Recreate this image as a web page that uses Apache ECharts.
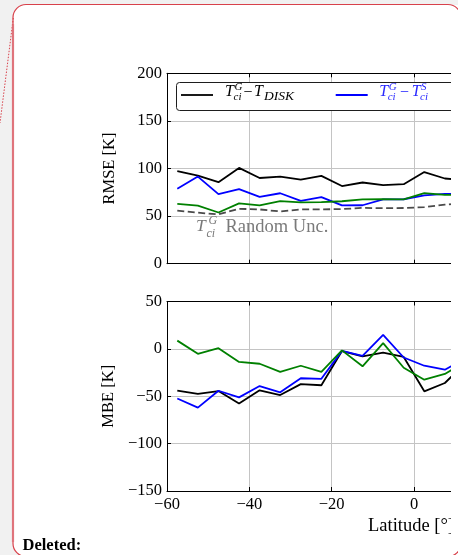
<!DOCTYPE html>
<html>
<head>
<meta charset="utf-8">
<script src="https://cdn.jsdelivr.net/npm/echarts@6/dist/echarts.min.js"></script>
<style>
  html, body { margin: 0; padding: 0; background: #f1f1f1; overflow: hidden; }
  #chart { width: 458px; height: 555px; }
</style>
</head>
<body>
<div id="chart"></div>
<script>
// Latitude bin centres (degrees)
const latitudes = [-57.5, -52.5, -47.5, -42.5, -37.5, -32.5, -27.5, -22.5, -17.5, -12.5, -7.5, -2.5, 2.5, 7.5, 12.5];

// RMSE [K]
const rmseDisk   = [97.2, 92.6, 85.6, 100.6, 90.0, 91.5, 88.3, 92.2, 81.6, 85.3, 82.6, 83.5, 96.3, 89.5, 87.5];
const rmseSat    = [78.8, 91.5, 73.1, 78.3, 70.2, 74.0, 66.0, 69.9, 61.2, 61.4, 67.5, 67.7, 71.8, 73.4, 73.3];
const rmseThird  = [62.9, 61.0, 53.8, 63.3, 61.3, 65.7, 64.4, 64.7, 65.6, 67.5, 67.8, 67.6, 74.1, 72.2, 72.4];
const randomUnc  = [55.8, 53.6, 51.8, 57.7, 57.0, 54.9, 57.0, 57.0, 57.4, 58.6, 58.3, 58.5, 59.4, 62.1, 63.5];

// MBE [K]
const mbeDisk  = [-44.0, -47.5, -44.5, -57.7, -43.7, -48.7, -37.2, -38.4, -2.3, -8.0, -4.0, -8.5, -44.8, -36.0, -15.0];
const mbeSat   = [-52.4, -62.0, -44.2, -51.2, -39.2, -45.8, -31.0, -31.6, -2.1, -7.3, 14.7, -9.1, -17.8, -22.0, -10.0];
const mbeThird = [8.7, -5.2, 0.7, -13.8, -15.7, -24.3, -17.8, -24.3, -1.6, -18.4, 6.0, -19.9, -32.5, -26.5, -13.5];

// Axis ticks
const latTicks  = { min: -60, max: 60, step: 20 };
const rmseTicks = { min: 0, max: 200, step: 50 };
const mbeTicks  = { min: -150, max: 50, step: 50 };

const SERIF = '"Liberation Serif", "Times New Roman", serif';
const pair = vals => vals.map((v, i) => [latitudes[i], v]);
const fmt = v => (v < 0 ? '\u2212' + Math.abs(v) : String(v));

const gridLine = { show: true, lineStyle: { color: '#c4c4c4', width: 1 } };
const tickIn = { show: true, inside: true, length: 4, lineStyle: { color: '#000', width: 1 } };
const spine = { show: true, onZero: false, lineStyle: { color: '#000', width: 1 } };
const tickLabel = { fontFamily: SERIF, fontSize: 16.5, color: '#000' };

function xAxes(gridIndex, withLabels) {
  return [
    {
      gridIndex, type: 'value', position: 'bottom',
      min: latTicks.min, max: latTicks.max, interval: latTicks.step,
      axisLine: spine, axisTick: tickIn, splitLine: gridLine,
      axisLabel: withLabels ? Object.assign({ show: true, margin: 5, formatter: fmt, showMinLabel: true }, tickLabel) : { show: false },
      name: withLabels ? 'Latitude [\u00b0]' : '',
      nameLocation: 'middle', nameGap: 26,
      nameTextStyle: { fontFamily: SERIF, fontSize: 18.5, color: '#000', padding: [0, 6, 0, 0] },
      z: 3
    },
    {
      gridIndex, type: 'value', position: 'top',
      min: latTicks.min, max: latTicks.max, interval: latTicks.step,
      axisLine: spine, axisTick: tickIn, splitLine: { show: false },
      axisLabel: { show: false }, z: 3
    }
  ];
}

function yAxis(gridIndex, ticks, name) {
  return {
    gridIndex, type: 'value', position: 'left',
    min: ticks.min, max: ticks.max, interval: ticks.step,
    axisLine: spine, axisTick: tickIn, splitLine: gridLine,
    axisLabel: Object.assign({ margin: 5, formatter: fmt, showMinLabel: true, showMaxLabel: true }, tickLabel),
    name, nameLocation: 'middle', nameGap: 49,
    nameTextStyle: { fontFamily: SERIF, fontSize: 16.5, color: '#000' },
    z: 3
  };
}

function line(name, vals, xi, yi, color, dashed) {
  return {
    name, type: 'line', xAxisIndex: xi, yAxisIndex: yi,
    data: pair(vals), symbol: 'none', clip: true, z: 4,
    lineStyle: { color, width: 1.8, type: dashed ? [7, 3.5] : 'solid' },
    emphasis: { disabled: true }
  };
}

// Math-style label built from italic letters with stacked super/subscripts
function mathText(parts, color, z) {
  return parts.map(p => ({
    type: 'text', x: p.x, y: p.y, z,
    style: {
      text: p.t, fill: color,
      fontFamily: SERIF, fontSize: p.s, fontStyle: p.i ? 'italic' : 'normal',
      textVerticalAlign: 'middle', verticalAlign: 'middle'
    }
  }));
}

const legendDisk = [
  { t: 'T', x: 225, y: 92, s: 16, i: true },
  { t: 'G', x: 234.5, y: 87.5, s: 11, i: true },
  { t: 'ci', x: 233.5, y: 97.5, s: 11, i: true },
  { t: '\u2212', x: 243.5, y: 92.5, s: 16 },
  { t: 'T', x: 254, y: 92, s: 16, i: true },
  { t: 'DISK', x: 264, y: 96.5, s: 13.5, i: true }
];
const legendSat = [
  { t: 'T', x: 379.3, y: 92, s: 16, i: true },
  { t: 'G', x: 388.7, y: 87.5, s: 11, i: true },
  { t: 'ci', x: 387.7, y: 97.5, s: 11, i: true },
  { t: '\u2212', x: 400, y: 92.5, s: 16 },
  { t: 'T', x: 411.7, y: 92, s: 16, i: true },
  { t: 'S', x: 421, y: 87.5, s: 11, i: true },
  { t: 'ci', x: 420, y: 97.5, s: 11, i: true }
];
const uncLabel = [
  { t: 'T', x: 196, y: 226, s: 17.5, i: true },
  { t: 'G', x: 208.5, y: 221, s: 12, i: true },
  { t: 'ci', x: 206.5, y: 234, s: 12, i: true },
  { t: 'Random Unc.', x: 225.5, y: 227.5, s: 18.5 }
];

const chart = echarts.init(document.getElementById('chart'), null, { renderer: 'canvas' });
chart.setOption({
  animation: false,
  backgroundColor: 'transparent',
  grid: [
    { left: 167, top: 73.3, width: 494, height: 190.4, containLabel: false, outerBoundsMode: 'none', z: 1 },
    { left: 167, top: 301.5, width: 494, height: 189.5, containLabel: false, outerBoundsMode: 'none', z: 1 }
  ],
  xAxis: [...xAxes(0, false), ...xAxes(1, true)],
  yAxis: [yAxis(0, rmseTicks, 'RMSE [K]'), yAxis(1, mbeTicks, 'MBE [K]')],
  series: [
    line('T_ci^G - T_DISK (RMSE)', rmseDisk, 0, 0, '#000000'),
    line('T_ci^G - T_ci^S (RMSE)', rmseSat, 0, 0, '#0000ff'),
    line('third (RMSE)', rmseThird, 0, 0, '#008000'),
    line('T_ci^G random uncertainty', randomUnc, 0, 0, '#4a4a4a', true),
    line('T_ci^G - T_DISK (MBE)', mbeDisk, 2, 1, '#000000'),
    line('T_ci^G - T_ci^S (MBE)', mbeSat, 2, 1, '#0000ff'),
    line('third (MBE)', mbeThird, 2, 1, '#008000')
  ],
  graphic: [
    // comment card background
    { type: 'rect', z: 0, shape: { x: 13, y: 4.5, width: 448, height: 552, r: 13 }, style: { fill: '#ffffff' } },
    // legend frame and handles
    { type: 'rect', z: 5, shape: { x: 176.5, y: 82.5, width: 300, height: 28, r: 3 }, style: { fill: '#ffffff', stroke: '#1e1e1e', lineWidth: 1 } },
    { type: 'line', z: 6, shape: { x1: 181, y1: 95, x2: 213, y2: 95 }, style: { stroke: '#000000', lineWidth: 1.8 } },
    { type: 'line', z: 6, shape: { x1: 335.7, y1: 95, x2: 367.7, y2: 95 }, style: { stroke: '#0000ff', lineWidth: 1.8 } },
    ...mathText(legendDisk, '#000000', 6),
    ...mathText(legendSat, '#2a2aff', 6),
    ...mathText(uncLabel, '#7a7a7a', 6),
    // figure cut at the card's right edge
    { type: 'rect', z: 50, shape: { x: 451, y: 5, width: 12, height: 551 }, style: { fill: '#ffffff' } },
    // card outline and connector
    { type: 'rect', z: 60, shape: { x: 13, y: 4.5, width: 448, height: 552, r: 13 }, style: { fill: 'none', stroke: '#d8414b', lineWidth: 1.2 } },
    { type: 'line', z: 61, shape: { x1: 13, y1: 24, x2: 13, y2: 542 }, style: { stroke: 'rgba(222,110,118,0.75)', lineWidth: 2.2 } },
    { type: 'line', z: 60, shape: { x1: 13.3, y1: 18, x2: 0, y2: 123 }, style: { stroke: '#d8414b', lineWidth: 1, lineDash: [1.5, 1.5] } },
    {
      type: 'text', z: 60, x: 22.5, y: 545.5,
      style: { text: 'Deleted:', fill: '#000', fontFamily: SERIF, fontSize: 16.5, fontWeight: 'bold', textVerticalAlign: 'middle', verticalAlign: 'middle' }
    }
  ]
});
</script>
</body>
</html>
